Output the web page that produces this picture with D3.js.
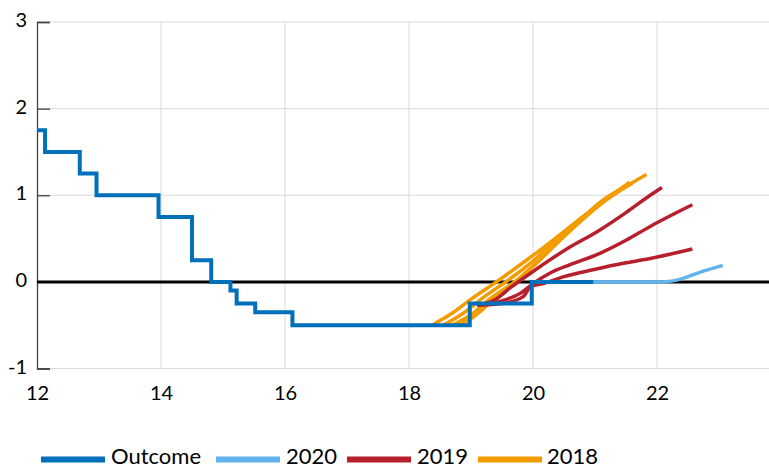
<!DOCTYPE html>
<html>
<head>
<meta charset="utf-8">
<script src="https://cdn.jsdelivr.net/npm/d3@7"></script>
<style>
  html, body { margin: 0; padding: 0; background: #fff; }
  svg { display: block; font-family: Lato, "Liberation Sans", sans-serif; }
</style>
</head>
<body>
<svg id="chart" width="769" height="469"></svg>
<script>
// Policy rate outcome (step series): dates in years (12 = 2012) and rates in per cent
const outcomeDates = [12.0, 12.13, 12.69, 12.96, 13.96, 14.5, 14.81, 15.12, 15.22, 15.52, 16.12, 18.98, 19.98, 20.97];
const outcomeRates = [1.75, 1.5, 1.25, 1.0, 0.75, 0.25, 0.0, -0.1, -0.25, -0.35, -0.5, -0.25, 0.0, 0.0];

// Market expectations, 2020
const exp2020Dates = [20.97, 21.5, 22.1, 22.32, 22.69, 23.06];
const exp2020Rates = [0.0, 0.0, 0.0, 0.02, 0.11, 0.19];

// Market expectations, 2019 (three curves)
const exp2019Dates = [
  [19.1, 19.4, 19.63, 20.0, 20.5, 21.08, 21.5, 21.89, 22.08],
  [19.1, 19.5, 19.8, 20.0, 20.27, 20.6, 21.08, 21.5, 21.89, 22.57],
  [19.1, 19.5, 19.84, 19.97, 20.16, 20.5, 20.97, 21.5, 21.89, 22.57]
];
const exp2019Rates = [
  [-0.27, -0.2, -0.07, 0.12, 0.36, 0.6, 0.8, 1.0, 1.09],
  [-0.27, -0.22, -0.13, -0.02, 0.1, 0.2, 0.33, 0.48, 0.64, 0.89],
  [-0.27, -0.25, -0.17, -0.05, -0.02, 0.06, 0.14, 0.22, 0.27, 0.38]
];

// Market expectations, 2018 (four curves)
const exp2018Dates = [
  [18.37, 18.7, 19.0, 19.41, 19.97, 20.5, 21.08, 21.56],
  [18.55, 18.9, 19.2, 19.6, 20.0, 20.54, 21.08, 21.6],
  [18.7, 19.0, 19.3, 19.74, 20.0, 20.54, 21.08, 21.5, 21.83],
  [18.8, 19.05, 19.4, 19.8, 20.1, 20.6, 21.1, 21.6]
];
const exp2018Rates = [
  [-0.5, -0.36, -0.2, 0.0, 0.29, 0.58, 0.9, 1.15],
  [-0.5, -0.35, -0.18, 0.02, 0.24, 0.6, 0.9, 1.14],
  [-0.5, -0.38, -0.2, 0.02, 0.18, 0.55, 0.89, 1.1, 1.24],
  [-0.5, -0.4, -0.18, 0.05, 0.25, 0.6, 0.93, 1.14]
];

const xTicks = [12, 14, 16, 18, 20, 22];
const yTicks = [-1, 0, 1, 2, 3];
const legendLabels = ["Outcome", "2020", "2019", "2018"];

const colors = {
  outcome: "#0070ba",
  y2020: "#62b4ee",
  y2019: "#b81f2c",
  y2018: "#f39c00"
};

const svg = d3.select("#chart");
const plotLeft = 37, plotRight = 769, plotTop = 22, plotBottom = 368.5;

const x = d3.scaleLinear().domain([12, 12 + (plotRight - plotLeft) / 62]).range([plotLeft, plotRight]);
const y = d3.scaleLinear().domain([-1, 3]).range([plotBottom, plotTop]);

// Gridlines
const grid = svg.append("g");
grid.selectAll("line.h").data(yTicks).join("line")
  .attr("class", "h")
  .attr("x1", plotLeft).attr("x2", plotRight)
  .attr("y1", d => y(d)).attr("y2", d => y(d))
  .attr("stroke", "#d9d9d9").attr("stroke-width", 1);
grid.selectAll("line.v").data(xTicks.filter(d => d > 12)).join("line")
  .attr("class", "v")
  .attr("x1", d => x(d)).attr("x2", d => x(d))
  .attr("y1", plotTop).attr("y2", plotBottom)
  .attr("stroke", "#d9d9d9").attr("stroke-width", 1);

// Left axis with inward ticks
const yAxis = d3.axisRight(y).tickValues(yTicks).tickSize(13).tickFormat("");
const yAxisG = svg.append("g").attr("transform", `translate(${plotLeft},0)`).call(yAxis);
yAxisG.select(".domain").attr("stroke", "#404040").attr("stroke-width", 1.3);
yAxisG.selectAll(".tick line").attr("stroke", "#404040").attr("stroke-width", 1.3);

svg.append("g").selectAll("text").data(yTicks).join("text")
  .attr("x", 27).attr("y", d => y(d) - 3)
  .attr("text-anchor", "end").attr("dominant-baseline", "central")
  .attr("font-size", 20).attr("fill", "#000")
  .text(d => d);

// X tick labels
const xAxis = d3.axisBottom(x).tickValues(xTicks).tickSize(0).tickPadding(0);
const xAxisG = svg.append("g").attr("transform", `translate(0,${plotBottom})`).call(xAxis);
xAxisG.select(".domain").remove();
xAxisG.selectAll(".tick text")
  .attr("font-family", "Lato, 'Liberation Sans', sans-serif")
  .attr("font-size", 20).attr("fill", "#000")
  .attr("dy", null).attr("y", 31);

// Zero line
svg.append("line")
  .attr("x1", plotLeft).attr("x2", plotRight)
  .attr("y1", y(0)).attr("y2", y(0))
  .attr("stroke", "#000").attr("stroke-width", 3);

const curve = d3.line().x(d => x(d[0])).y(d => y(d[1])).curve(d3.curveMonotoneX);
const zipSeries = (ds, vs) => ds.map((d, i) => [d, vs[i]]);

// 2018 expectations
svg.append("g").selectAll("path").data(exp2018Dates.map((ds, i) => zipSeries(ds, exp2018Rates[i]))).join("path")
  .attr("d", curve).attr("fill", "none")
  .attr("stroke", colors.y2018).attr("stroke-width", 3.5).attr("stroke-linejoin", "round");

// 2019 expectations
svg.append("g").selectAll("path").data(exp2019Dates.map((ds, i) => zipSeries(ds, exp2019Rates[i]))).join("path")
  .attr("d", curve).attr("fill", "none")
  .attr("stroke", colors.y2019).attr("stroke-width", 3.5).attr("stroke-linejoin", "round");

// 2020 expectations
svg.append("path").datum(zipSeries(exp2020Dates, exp2020Rates))
  .attr("d", curve).attr("fill", "none")
  .attr("stroke", colors.y2020).attr("stroke-width", 3.5);

// Outcome step line
const step = d3.line().x(d => x(d[0])).y(d => y(d[1])).curve(d3.curveStepAfter);
svg.append("path").datum(zipSeries(outcomeDates, outcomeRates))
  .attr("d", step).attr("fill", "none")
  .attr("stroke", colors.outcome).attr("stroke-width", 4);

// Legend
const legendItems = [
  { label: legendLabels[0], color: colors.outcome, x0: 41, x1: 105, tx: 111 },
  { label: legendLabels[1], color: colors.y2020, x0: 216, x1: 280, tx: 286 },
  { label: legendLabels[2], color: colors.y2019, x0: 347, x1: 411, tx: 417 },
  { label: legendLabels[3], color: colors.y2018, x0: 478, x1: 542, tx: 547 }
];
const lg = svg.append("g");
lg.selectAll("line").data(legendItems).join("line")
  .attr("x1", d => d.x0).attr("x2", d => d.x1)
  .attr("y1", 459.5).attr("y2", 459.5)
  .attr("stroke", d => d.color).attr("stroke-width", 6);
lg.selectAll("text").data(legendItems).join("text")
  .attr("x", d => d.tx).attr("y", 464)
  .attr("font-size", 22).attr("fill", "#000")
  .text(d => d.label);
</script>
</body>
</html>
